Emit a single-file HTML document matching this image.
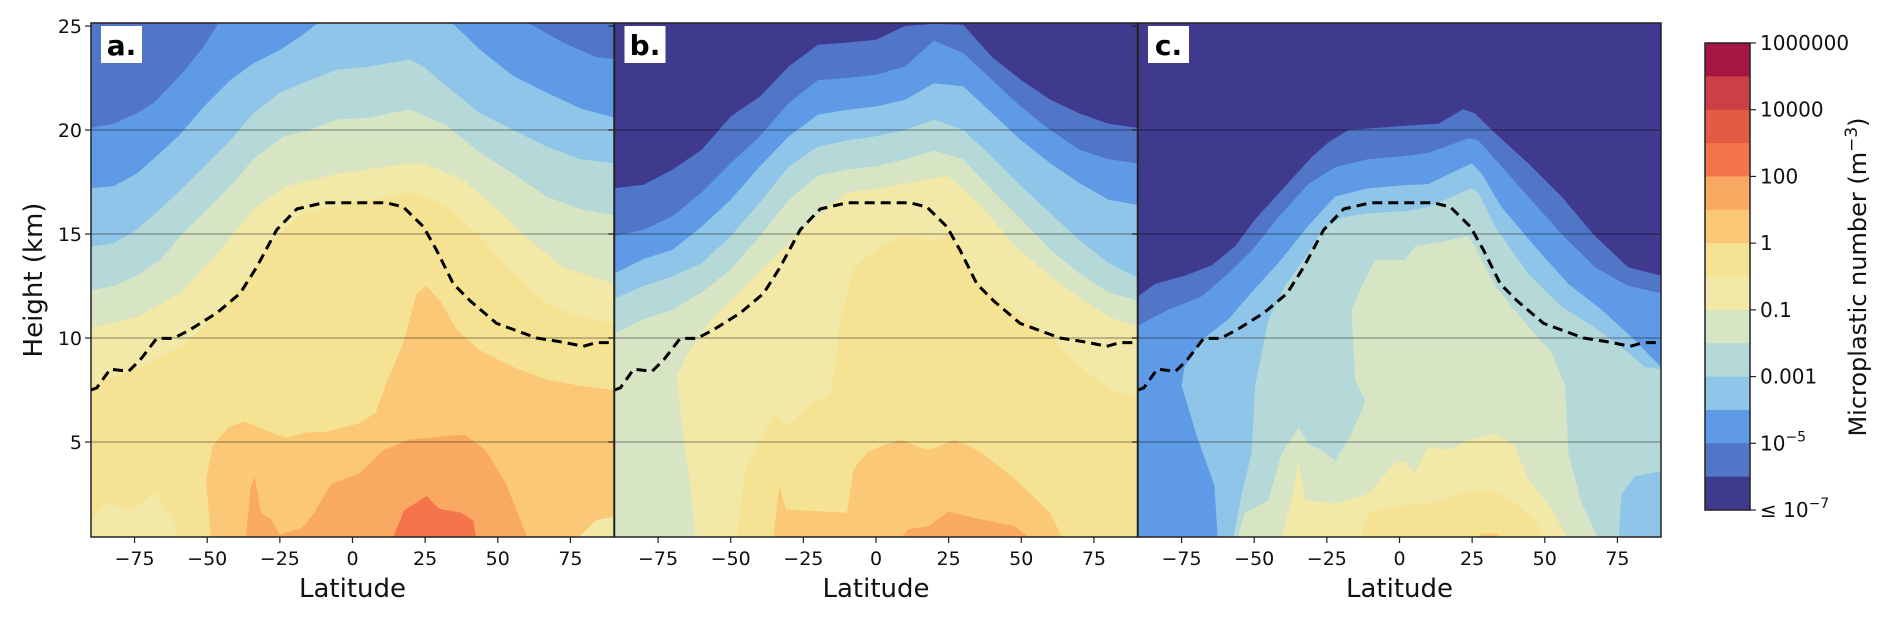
<!DOCTYPE html>
<html><head><meta charset="utf-8"><style>
html,body{margin:0;padding:0;background:#fff;}
svg{display:block;font-family:"DejaVu Sans","Liberation Sans",sans-serif;}
</style></head><body>
<svg id="fig" width="1892" height="617" viewBox="0 0 1892 617" xmlns="http://www.w3.org/2000/svg">
<defs>
<clipPath id="clip0"><rect x="91" y="23" width="523" height="514"/></clipPath>
<clipPath id="clip1"><rect x="614.5" y="23" width="523" height="514"/></clipPath>
<clipPath id="clip2"><rect x="1138" y="23" width="523" height="514"/></clipPath>
</defs>
<g id="layer"></g>
</svg>
<script>
// colour levels (high value -> low value)
const bandColors = ["#a51642","#cc3f47","#e25b45","#f4754a","#f9a962","#fbc877","#f5e393","#f2e8a7","#d7e5c5","#b4d9d8","#8fc5e8","#5e9ae6","#5176c8","#3f3a8e"];
const cbarLabels = ["1000000","10000","100","1","0.1","0.001","10^-5","≤ 10^-7"];
const xTicks = [-75,-50,-25,0,25,50,75];
const yTicks = [5,10,15,20,25];

// Panel a contour boundaries
const aB13Lat = [-90,-82.3,-74.3,-68.5,-62.8,-57,-51.3,-46.7,-40,58,61,72.5,84,90];
const aB13H = [20.1,20.3,20.8,21.3,22.1,23.0,24.0,25.0,26.5,26.5,25.1,24.2,23.5,23.4];
const aB12Lat = [-90,-82.3,-74.3,-66.2,-59.3,-51.3,-42.1,-34.1,-24.9,-16.9,-12.3,-8,30,34.7,43.9,55.3,66.8,78.3,90];
const aB12H = [17.2,17.3,17.9,18.9,19.8,21.1,22.4,23.2,23.85,24.6,25.1,26.5,26.5,25.1,23.85,22.6,21.8,21.05,20.6];
const aB11Lat = [-90,-82.3,-74.3,-66.2,-59.3,-51.3,-42.1,-34.1,-24.9,-14.6,-5.4,5.8,19.8,24.4,32.4,43.9,55.3,66.8,78.3,90];
const aB11H = [14.4,14.55,15.2,16.2,17.1,18.2,19.5,20.8,21.8,22.4,22.9,23.05,23.4,23.05,22.1,20.8,20.0,19.2,18.6,18.4];
const aB10Lat = [-90,-82.3,-74.3,-66.2,-59.3,-51.3,-42.1,-34.1,-23.8,-14.6,-5.4,5.8,19.8,32.4,43.9,55.3,66.8,78.3,90];
const aB10H = [12.3,12.5,13.0,13.75,14.9,16.0,17.3,18.6,19.7,20.0,20.5,20.6,21.0,20.2,18.9,17.9,16.8,16.2,15.9];
const aB9Lat = [-90,-74.3,-59.3,-45.6,-34.1,-22.6,-5.4,19.8,24.4,38.1,49.6,61,72.5,90];
const aB9H = [10.5,11.0,12.15,14.2,16.2,17.3,17.9,18.4,18.4,17.6,16.2,14.7,13.4,12.6];
const aB8Lat = [-90,-82.3,-74.3,-66.2,-57,-45.6,-35.3,-26,-16.9,0.3,17.5,23.2,32.4,43.9,55.3,66.8,78.3,90];
const aB8H = [7.7,8.15,8.5,9.1,9.75,11.3,12.95,14.9,16.0,16.5,16.95,16.95,16.3,14.9,13.1,11.7,11.0,10.7];
const aB7Lat = [-48.5,-50.4,-48.3,-42.6,-37,-30.1,-23,-16,-8.9,2.4,7.9,12.1,17.5,22.1,25.5,30.1,35.9,43.9,55.3,66.8,78.3,90];
const aB7H = [0,3.17,4.77,5.73,5.98,5.57,5.2,5.45,5.5,5.9,6.4,8.0,9.75,12.15,12.5,11.8,10.4,9.4,8.6,8.0,7.7,7.5];
const aB6Lat = [-37,-35,-33.6,-31.5,-28,-25.2,-17.4,-13.2,-7.5,2.4,10.7,19.1,33.2,38.8,45.8,52.8,61.3];
const aB6H = [0,2.85,3.3,1.6,1.3,0.56,0.85,1.6,2.96,3.5,4.6,5.1,5.3,5.35,4.6,3.0,0];
const aB5Lat = [12.8,17.7,25.5,29.7,37.4,41.6,43];
const aB5H = [0,1.7,2.4,1.8,1.6,1.2,0];
const aIsl1Lat = [74.8,84,89.7,90];
const aIsl1H = [0,1.25,1.4,1.4];
const aIsl2Lat = [-90,-84.8,-76.4,-68,-60.9,-59.4];
const aIsl2H = [1.2,2.13,1.65,2.6,1.0,0];

// Panel b
const bLat = [-90,-80,-70,-60,-50,-40,-30,-20,-10,0,10,20,30,40,50,60,70,80,90];
const bB14H = [17.2,17.37,18.1,19.05,20.65,21.6,23.06,24.1,24.2,24.34,25.0,25.1,25.06,23.5,22.4,21.45,20.8,20.3,20.1];
const bB13H = [14.9,15.2,15.85,17.0,18.4,19.7,21.3,22.4,22.5,22.66,23.06,24.3,23.7,22.4,21.1,20.0,19.05,18.6,18.4];
const bB12H = [13.1,13.8,14.24,15.36,16.65,18.25,19.7,20.73,20.97,21.13,21.45,22.25,22.1,20.8,19.5,18.4,17.45,16.65,16.4];
const bB11H = [11.9,12.5,12.96,13.6,14.9,16.5,18.25,19.2,19.5,19.7,20.0,20.5,20.0,18.7,17.3,16.0,14.7,13.6,12.9];
const bB10H = [10.2,10.9,11.35,12.2,13.3,14.9,16.65,17.8,18.1,18.25,18.6,19.0,18.6,17.1,15.7,14.25,13.1,12.2,11.8];
const bB9Lat = [-62,-64,-67,-68.5,-64.6,-56.5,-44.9,-33.3,-21.6,-10,1.6,24.9,36.5,48,59.8,71.4,80.7,90];
const bB9H = [0,3,6,8.2,9.3,10.9,12.5,14.1,15.7,17.0,17.2,17.8,16.3,14.4,13.0,11.8,11.0,10.55];
const bB8Lat = [-48.4,-44.9,-39,-34.4,-30.9,-21.6,-15.8,-13.5,-12.3,-7.7,1.6,9.8,20.2,24.9,36.5,48.1,59.8,71.4,80.7,90];
const bB8H = [0,3.7,5.3,6.4,5.75,6.9,7.2,9.3,10.9,13.4,14.4,14.9,14.7,15.0,12.5,11.2,10.1,8.5,7.5,7.2];
const bB7Lat = [-35.6,-33.3,-31,-10,-7.7,-3,1.6,8.6,17.9,27.2,36.5,48,59.8,65.6];
const bB7H = [0,2.9,1.75,1.6,3.7,4.5,4.8,5.1,4.6,5.1,4.47,3.2,1.6,0];
const bB6Lat = [6.3,11,18,25,36.5,48,56];
const bB6H = [0,0.8,0.95,1.66,1.26,0.94,0];

// Panel c
const cB14Lat = [-90,-84.1,-73.8,-64.6,-56.6,-49.7,-40.6,-30.2,-24.5,-17.6,1.9,13.4,21.9,26,31.7,44.3,55.8,67.3,78.7,90];
const cB14H = [12.0,12.6,13.0,13.5,14.4,15.7,17.1,18.7,19.4,20.0,20.2,20.3,21.0,20.8,20.0,18.4,16.8,14.9,13.4,13.0];
const cB13Lat = [-90,-79.6,-68.1,-58.9,-50.9,-41.7,-31.4,-22.2,-10.7,1.9,9.9,23.7,27.1,32.9,44.3,55.8,67.3,78.7,90];
const cB13H = [10.6,11.35,12.0,13.1,14.2,15.8,17.4,18.2,18.6,18.75,18.9,19.6,19.5,18.6,16.8,15.0,13.4,12.5,12.15];
const cB12Lat = [-62.4,-63.7,-70,-75,-74,-68.1,-58.9,-50.9,-41.7,-31.4,-22.2,-10.7,1.9,9.9,24.8,28.3,35.1,46.6,58.1,69.6,81,90];
const cB12H = [0,2.9,5.4,7.7,8.6,9.9,10.9,12.2,13.6,15.4,16.8,17.2,17.35,17.4,18.4,17.9,16.3,14.4,12.6,11.35,9.9,8.6];
const cB11Lat = [-57.7,-54.3,-50.9,-49.7,-45.1,-39.4,-31.4,-26.8,-19.9,-10.7,1.9,9.9,24.8,27.1,32.9,44.3,55.8,67.3,78.7,84.5,90];
const cB11H = [0,2.5,4.46,7.7,10.9,12.5,14.1,15.2,15.8,16.0,16.1,16.3,17.2,17.0,15.35,13.1,11.5,10.5,9.3,8.6,8.5];
const cIslLat = [75.3,76.4,81,90];
const cIslH = [0,2.5,3.35,3.6];
const cB10Lat = [-56.6,-53.2,-45.1,-40.6,-34.8,-31.4,-26.8,-22.2,-17.6,-13,-11.9,-15.3,-16.5,-13,-8.4,1.9,5.3,13.4,23.7,27.1,32.9,44.3,52.4,57,58.1,62.7,69.6];
const cB10H = [0,1.6,2.2,4.45,5.7,4.9,4.6,4.1,5.1,6.5,7.0,8.0,11.35,12.5,13.75,13.75,14.4,14.6,14.9,14.1,12.5,10.55,9.3,7.7,4.46,2.05,0];
const cB9Lat = [-41.7,-37.1,-34.8,-32.5,-22.2,-10.7,-1.6,1.9,5.3,9.9,16.8,23.7,32.9,39.7,44.3,52.4,59.2];
const cB9H = [0,2.2,4.0,2.2,2.05,2.5,4.0,4.1,3.5,4.8,4.6,5.1,5.4,4.8,3.2,1.75,0];
const cB8Lat = [-14,-10.7,-1.6,9.9,21.4,30.6,38.6,46.6,51.2];
const cB8H = [0,1.6,1.9,2.05,2.5,2.7,2.2,1.25,0];
const cB7Lat = [26,28,34,36];
const cB7H = [0,0.6,0.6,0];

// Tropopause (dashed)
const tpLat = [-90,-88,-83.4,-77.1,-73.1,-67.4,-61.6,-55.9,-46.7,-38.7,-33,-26.1,-19.2,-10,11.8,17.5,24.4,29,34.7,40.4,49.6,63.4,72.5,79.4,84,89.7];
const tpH = [7.5,7.6,8.5,8.4,8.94,9.98,9.98,10.4,11.2,12.15,13.4,15.2,16.2,16.5,16.5,16.3,15.35,14.2,12.6,11.8,10.7,10.0,9.8,9.6,9.78,9.78];

const panelNames = ["a.","b."," c."];
const panels = [
  {bg:12, polys:[[11,aB13Lat,aB13H],[10,aB12Lat,aB12H],[9,aB11Lat,aB11H],[8,aB10Lat,aB10H],[7,aB9Lat,aB9H],[6,aB8Lat,aB8H],[7,aIsl2Lat,aIsl2H],[5,aB7Lat,aB7H],[4,aB6Lat,aB6H],[3,aB5Lat,aB5H],[7,aIsl1Lat,aIsl1H]]},
  {bg:13, polys:[[12,bLat,bB14H],[11,bLat,bB13H],[10,bLat,bB12H],[9,bLat,bB11H],[8,bLat,bB10H],[7,bB9Lat,bB9H],[6,bB8Lat,bB8H],[5,bB7Lat,bB7H],[4,bB6Lat,bB6H]]},
  {bg:13, polys:[[12,cB14Lat,cB14H],[11,cB13Lat,cB13H],[10,cB12Lat,cB12H],[9,cB11Lat,cB11H],[10,cIslLat,cIslH],[8,cB10Lat,cB10H],[7,cB9Lat,cB9H],[6,cB8Lat,cB8H],[5,cB7Lat,cB7H]]}
];

const NS = "http://www.w3.org/2000/svg";
const layer = document.getElementById("layer");
const lefts = [91, 614.5, 1138];
const PW = 523, TOP = 23, BOT = 537;
function X(p, lat){ return lefts[p] + (lat + 90) * PW / 180; }
function Y(h){ return 442 - (h - 5) * 20.8; }
function mk(tag, attrs, parent){
  const e = document.createElementNS(NS, tag);
  for (const k in attrs) e.setAttribute(k, attrs[k]);
  (parent || layer).appendChild(e);
  return e;
}

panels.forEach((pn, p) => {
  const g = mk("g", {"clip-path": "url(#clip" + p + ")"});
  
  
  const bg = mk("rect", {x: lefts[p], y: TOP, width: PW, height: BOT - TOP, fill: bandColors[pn.bg]}, g);
  
  
  pn.polys.forEach((pl, i) => {
    const [ci, lats, hs] = pl;
    let pts = lats.map((la, j) => X(p, la).toFixed(1) + "," + Y(hs[j]).toFixed(1));
    pts.push(X(p, lats[lats.length - 1]).toFixed(1) + "," + (BOT + 20));
    pts.push(X(p, lats[0]).toFixed(1) + "," + (BOT + 20));
    const poly = mk("polygon", {points: pts.join(" "), fill: bandColors[ci]}, g);
    
    
  });
  // gridlines
  [5,10,15,20].forEach(h => {
    const gl = mk("line", {x1: lefts[p], x2: lefts[p] + PW, y1: Y(h), y2: Y(h), stroke: "rgba(0,0,0,0.3)", "stroke-width": 1.5}, g);
    
    
  });
  // tropopause
  const tp = mk("polyline", {points: tpLat.map((la, j) => X(p, la).toFixed(1) + "," + Y(tpH[j]).toFixed(1)).join(" "), fill: "none", stroke: "#000", "stroke-width": 3, "stroke-dasharray": "10 6", "stroke-linejoin": "round"}, g);
  
  
  // frame
  const fr = mk("rect", {x: lefts[p], y: TOP, width: PW, height: BOT - TOP, fill: "none", stroke: "#222", "stroke-width": 1.5});
  
  
  // panel label
  const lb = mk("rect", {x: lefts[p] + 10, y: 26, width: 41, height: 37, fill: "#fff"});
  
  
  const lt = mk("text", {x: lefts[p] + 30.5, y: 55, "text-anchor": "middle", "font-size": 28, "font-weight": "bold", fill: "#000"});
  lt.textContent = ["a.","b.","c."][p];
  
  
  // x ticks
  xTicks.forEach(t => {
    const tk = mk("line", {x1: X(p, t), x2: X(p, t), y1: BOT, y2: BOT + 6, stroke: "#222", "stroke-width": 1.2});
    
    
    const tl = mk("text", {x: X(p, t), y: 565, "text-anchor": "middle", "font-size": 19, fill: "#111"});
    tl.textContent = (t < 0 ? "\u2212" + (-t) : "" + t);
    
    
  });
  // y ticks
  yTicks.forEach(t => {
    const tk = mk("line", {x1: lefts[p] - 6, x2: lefts[p], y1: Y(t), y2: Y(t), stroke: "#222", "stroke-width": 1.2});
    
    
    if (p === 0) {
      const tl = mk("text", {x: lefts[p] - 9, y: Y(t) + 7, "text-anchor": "end", "font-size": 19, fill: "#111"});
      tl.textContent = "" + t;
      
      
    }
  });
  const xl = mk("text", {x: lefts[p] + PW / 2, y: 597, "text-anchor": "middle", "font-size": 26, fill: "#111"});
  xl.textContent = "Latitude";
  
  
});

// y axis title
const yt = mk("text", {x: 0, y: 0, transform: "translate(42,280) rotate(-90)", "text-anchor": "middle", "font-size": 26, fill: "#111"});
yt.textContent = "Height (km)";



// colorbar
const CBX = 1705, CBW = 45, CBT = 43, CBB = 510;
const bh = (CBB - CBT) / bandColors.length;
bandColors.forEach((c, i) => {
  const r = mk("rect", {x: CBX, y: CBT + i * bh, width: CBW, height: bh + 0.5, fill: c});
  
  
});
const cf = mk("rect", {x: CBX, y: CBT, width: CBW, height: CBB - CBT, fill: "none", stroke: "#222", "stroke-width": 1.5});


cbarLabels.forEach((s, i) => {
  const y = CBT + i * 2 * bh;
  const tk = mk("line", {x1: CBX + CBW, x2: CBX + CBW + 6, y1: y, y2: y, stroke: "#222", "stroke-width": 1.2});
  
  
  const t = mk("text", {x: CBX + CBW + 10, y: y + 7, "font-size": 20, fill: "#111"});
  
  
  if (s.indexOf("^") >= 0) {
    const parts = s.split("^");
    const a = document.createElementNS(NS, "tspan"); a.textContent = parts[0]; t.appendChild(a);
    const b = document.createElementNS(NS, "tspan"); b.textContent = parts[1].replace("-", "\u2212");
    b.setAttribute("dy", "-9"); b.setAttribute("font-size", "14"); t.appendChild(b);
  } else t.textContent = s;
});
const ct = mk("text", {x: 0, y: 0, transform: "translate(1866,277) rotate(-90)", "text-anchor": "middle", "font-size": 24, fill: "#111"});


const c1 = document.createElementNS(NS, "tspan"); c1.textContent = "Microplastic number (m"; ct.appendChild(c1);
const c2 = document.createElementNS(NS, "tspan"); c2.textContent = "\u22123"; c2.setAttribute("dy", "-9"); c2.setAttribute("font-size", "17"); ct.appendChild(c2);
const c3 = document.createElementNS(NS, "tspan"); c3.textContent = ")"; c3.setAttribute("dy", "9"); ct.appendChild(c3);
</script>
</body></html>
